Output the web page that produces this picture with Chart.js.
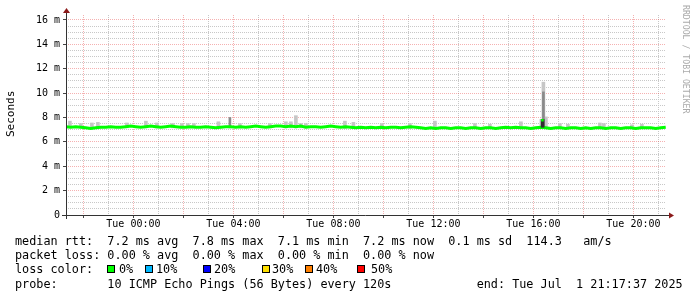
<!DOCTYPE html>
<html>
<head>
<meta charset="utf-8">
<script src="https://cdn.jsdelivr.net/npm/chart.js"></script>
<style>
  body { margin: 0; background: #fff; }
  #wrap { position: relative; width: 697px; height: 297px; overflow: hidden; background: #fff; }
  #chart { position: absolute; left: 0; top: 0; }
  .txt { position: absolute; font-family: 'DejaVu Sans Mono', monospace; white-space: pre; color: #000; }
  .row { left: 15px; font-size: 11.8px; line-height: 14px; }
  .box { position: absolute; width: 6px; height: 6px; border: 1px solid #000; }
  #ytitle { left: 4px; top: 90px; width: 13px; height: 47px; font-size: 11px; line-height: 13px;
            writing-mode: vertical-rl; transform: rotate(180deg); }
  #credit { left: 681px; top: 5px; font-size: 8.2px; line-height: 10px; color: #aaa; writing-mode: vertical-rl; }
</style>
</head>
<body>
<div id="wrap">
  <canvas id="chart" width="697" height="297"></canvas>
  <div class="txt" id="ytitle">Seconds</div>
  <div class="txt" id="credit">RRDTOOL / TOBI OETIKER</div>
  <div class="txt row" style="top:234px">median rtt:  7.2 ms avg  7.8 ms max  7.1 ms min  7.2 ms now  0.1 ms sd  114.3   am/s</div>
  <div class="txt row" style="top:248px">packet loss: 0.00 % avg  0.00 % max  0.00 % min  0.00 % now</div>
  <div class="txt row" style="top:262px">loss color:</div>
  <div id="losses"></div>
  <div class="txt row" style="top:277px">probe:       10 ICMP Echo Pings (56 Bytes) every 120s            end: Tue Jul  1 21:17:37 2025</div>
</div>
<script>
// time axis: hours relative to Tue 00:00, window ends Tue 21:17:37
const startHour = -2.7064
const stepHours = 0.2   // one median sample per 12 min

// median rtt in ms
const rttMedian = [
  7.25, 7.2, 7.25, 7.2, 7.15, 7.1, 7.15, 7.2, 7.2, 7.25, 7.2, 7.2, 7.25,
  7.3, 7.25, 7.2, 7.25, 7.3, 7.25, 7.2, 7.25, 7.3, 7.25, 7.2, 7.2,
  7.25, 7.2, 7.2, 7.25, 7.2, 7.15, 7.2, 7.25, 7.25, 7.2, 7.25, 7.2,
  7.25, 7.3, 7.25, 7.2, 7.25, 7.3, 7.3, 7.25, 7.3, 7.25, 7.3, 7.2,
  7.25, 7.25, 7.2, 7.25, 7.3, 7.25, 7.2, 7.25, 7.2, 7.15, 7.2, 7.15,
  7.2, 7.15, 7.2, 7.15, 7.2, 7.2, 7.15, 7.2, 7.25, 7.2, 7.15, 7.1,
  7.15, 7.1, 7.15, 7.15, 7.1, 7.15, 7.15, 7.1, 7.15, 7.15, 7.1, 7.15,
  7.15, 7.1, 7.15, 7.2, 7.15, 7.2, 7.15, 7.15, 7.1, 7.15, 7.2, 7.15,
  7.1, 7.15, 7.15, 7.1, 7.15, 7.15, 7.1, 7.15, 7.1, 7.15, 7.15, 7.1,
  7.15, 7.15, 7.1, 7.15, 7.15, 7.1, 7.15, 7.15, 7.15, 7.1, 7.15, 7.2
]

// light smoke (ping spread) where it shows above the median line
const smokeHours = [-2.54, -2.1, -1.66, -1.42, -0.26, 0.5, 0.94, 1.58, 1.94, 2.18, 2.42, 3.4,
  4.26, 5.46, 6.1, 6.3, 6.5, 6.7, 6.9, 8.46, 8.8, 9.94, 11.06, 12.06,
  13.66, 14.26, 15.5, 16.32, 16.4, 16.5, 17.06, 17.38, 18.66, 18.82, 19.94, 20.34]
const smokeRange = [[7.15, 7.7], [7.15, 7.5], [7.15, 7.55], [7.15, 7.6], [7.15, 7.55], [7.15, 7.7],
  [7.15, 7.55], [7.15, 7.5], [7.15, 7.5], [7.15, 7.5], [7.15, 7.5], [7.15, 7.65],
  [7.15, 7.5], [7.15, 7.5], [7.15, 7.65], [7.15, 7.65], [7.15, 8.15], [7.15, 7.5],
  [7.15, 7.5], [7.1, 7.7], [7.1, 7.6], [7.1, 7.5], [7.1, 7.5], [7.1, 7.7],
  [7.1, 7.5], [7.1, 7.45], [7.1, 7.65], [7.1, 7.85], [7.2, 10.9], [7.1, 8.05],
  [7.1, 7.5], [7.1, 7.45], [7.1, 7.55], [7.1, 7.5], [7.1, 7.4], [7.1, 7.45]]

// inner (darker) smoke
const midHours = [3.86, 16.4]
const midRange = [[7.15, 8.0], [7.3, 10.1]]
const darkHours = [16.37]
const darkRange = [[7.2, 7.85]]

// median jump during the 16:xx spike
const peakHours = [16.36]
const peakRange = [[7.7, 7.85]]

// axes
const xLabelHours = [0, 4, 8, 12, 16, 20]
const xTickLabels = ['Tue 00:00', 'Tue 04:00', 'Tue 08:00', 'Tue 12:00', 'Tue 16:00', 'Tue 20:00']
const yLabelValues = [0, 2, 4, 6, 8, 10, 12, 14, 16]
const yTickLabels = ['0', '2 m', '4 m', '6 m', '8 m', '10 m', '12 m', '14 m', '16 m']

const lossLabels = ['0%', '10%', '20%', '30%', '40%', '50%']
const lossColors = ['#00ff00', '#00b8ff', '#0000ff', '#ffe000', '#ff8000', '#ff0000']

// loss colour legend
const lossBoxX = [107, 145, 203, 262, 305, 357]
const lossTextX = [120, 157, 215, 273, 317, 372]
const losses = document.getElementById('losses')
lossLabels.forEach((lbl, i) => {
  const b = document.createElement('div')
  b.className = 'box'
  b.style.left = lossBoxX[i] + 'px'
  b.style.top = '265px'
  b.style.background = lossColors[i]
  losses.appendChild(b)
  const t = document.createElement('div')
  t.className = 'txt row'
  t.style.left = (lossTextX[i] - 1) + 'px'
  t.style.top = '262px'
  t.textContent = lbl
  losses.appendChild(t)
})

const majorGrid = 'rgba(230,60,60,0.4)'
const minorGrid = '#c8c8c8'
const monoFont = { family: 'DejaVu Sans Mono', size: 10 }

const bars = (hours, ranges) => hours.map((h, i) => ({ x: h, y: ranges[i] }))

const hourGrid = []
for (let h = -2; h <= 21; h++) hourGrid.push(h)
const msGrid = []
for (let v = 0; v <= 16; v += 0.5) msGrid.push(v)

const rrdAxes = {
  id: 'rrdAxes',
  afterDatasetsDraw(chart) {
    const { ctx, chartArea: a } = chart
    ctx.save()
    ctx.strokeStyle = '#333'
    ctx.lineWidth = 1
    ctx.beginPath()
    ctx.moveTo(62, a.bottom + 0.5)
    ctx.lineTo(a.right + 3, a.bottom + 0.5)
    ctx.moveTo(a.left + 0.5, a.bottom + 4)
    ctx.lineTo(a.left + 0.5, a.top - 2)
    ctx.stroke()
    ctx.fillStyle = '#8b1a1a'
    ctx.beginPath()
    ctx.moveTo(a.right + 3, a.bottom - 2.5)
    ctx.lineTo(a.right + 8, a.bottom + 0.5)
    ctx.lineTo(a.right + 3, a.bottom + 3.5)
    ctx.closePath()
    ctx.fill()
    ctx.beginPath()
    ctx.moveTo(a.left - 3, a.top - 2)
    ctx.lineTo(a.left + 0.5, a.top - 7)
    ctx.lineTo(a.left + 4, a.top - 2)
    ctx.closePath()
    ctx.fill()
    ctx.restore()
  }
}

new Chart(document.getElementById('chart'), {
  type: 'line',
  data: {
    datasets: [
      {
        type: 'line',
        data: rttMedian.map((v, i) => ({ x: startHour + i * stepHours, y: v })),
        borderColor: '#00ff00',
        borderWidth: 3,
        pointRadius: 0,
        tension: 0,
        fill: false,
        order: 3
      },
      { type: 'bar', data: bars(smokeHours, smokeRange), backgroundColor: '#c6c6c6', barThickness: 3, grouped: false, order: 5 },
      { type: 'bar', data: bars(midHours, midRange), backgroundColor: '#8a8a8a', barThickness: 2, grouped: false, order: 4 },
      { type: 'bar', data: bars(darkHours, darkRange), backgroundColor: '#303030', barThickness: 3, grouped: false, order: 2 },
      { type: 'bar', data: bars(peakHours, peakRange), backgroundColor: '#00ff00', barThickness: 2, grouped: false, order: 1 }
    ]
  },
  options: {
    responsive: false,
    animation: false,
    devicePixelRatio: 1,
    layout: { padding: { top: 15, right: 31, bottom: 60, left: 0 } },
    plugins: { legend: { display: false }, tooltip: { enabled: false } },
    scales: {
      x: {
        type: 'linear',
        min: -2.696,
        max: 21.304,
        offset: false,
        afterBuildTicks: s => { s.ticks = hourGrid.map(v => ({ value: v })) },
        afterFit: s => { s.height = 22 },
        grid: {
          offset: false,
          lineWidth: 1,
          color: c => (c.tick && c.tick.value % 2 === 0) ? majorGrid : minorGrid,
          tickLength: 3,
          tickColor: c => (c.tick && c.tick.value % 2 === 0) ? '#444' : 'rgba(0,0,0,0)'
        },
        border: { display: false, dash: [1, 1] },
        ticks: {
          autoSkip: false,
          maxRotation: 0,
          padding: 0,
          color: '#000',
          font: monoFont,
          callback: v => {
            const k = xLabelHours.indexOf(v)
            return k >= 0 ? xTickLabels[k] : ''
          }
        }
      },
      y: {
        min: 0,
        max: 16.41,
        afterBuildTicks: s => { s.ticks = msGrid.map(v => ({ value: v })) },
        afterFit: s => { s.width = 66 },
        grid: {
          lineWidth: 1,
          color: c => (c.tick && c.tick.value % 2 === 0) ? majorGrid : minorGrid,
          tickLength: 3,
          tickColor: c => (c.tick && c.tick.value % 2 === 0) ? '#444' : 'rgba(0,0,0,0)'
        },
        border: { display: false, dash: [1, 1] },
        ticks: {
          autoSkip: false,
          padding: 3,
          color: '#000',
          font: monoFont,
          callback: v => {
            const k = yLabelValues.indexOf(v)
            return k >= 0 ? yTickLabels[k] : ''
          }
        }
      }
    }
  },
  plugins: [rrdAxes]
})
</script>
</body>
</html>
